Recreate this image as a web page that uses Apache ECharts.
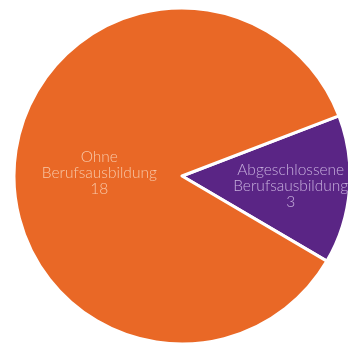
<!DOCTYPE html>
<html><head><meta charset="utf-8">
<script src="https://cdn.jsdelivr.net/npm/echarts@6/dist/echarts.min.js"></script>
<style>html,body{margin:0;padding:0;background:#fff}#c{width:348px;height:345px}</style>
</head><body><div id="c"></div>
<script>
const categories = ['Abgeschlossene\nBerufsausbildung', 'Ohne\nBerufsausbildung'];
const values = [3, 18];
const colors = ['#5A2585', '#E96826'];
const labelColors = ['#C6AEDC', '#F8C8A8'];
const chart = echarts.init(document.getElementById('c'));
chart.setOption({
  animation: false,
  series: [{
    type: 'pie',
    center: [182, 176],
    radius: 168,
    startAngle: 21,
    clockwise: true,
    itemStyle: { borderColor: '#fff', borderWidth: 3 },
    label: {
      position: 'inside',
      formatter: p => p.name + '\n' + p.value,
      fontFamily: 'Lato, "Noto Sans", sans-serif',
      fontWeight: 300,
      fontSize: 15.5,
      lineHeight: 16
    },
    labelLine: { show: false },
    data: categories.map((c, i) => ({
      name: c, value: values[i],
      itemStyle: { color: colors[i] },
      label: { color: labelColors[i], offset: i === 0 ? [22, 3] : [4, 4] }
    }))
  }]
});
</script></body></html>
